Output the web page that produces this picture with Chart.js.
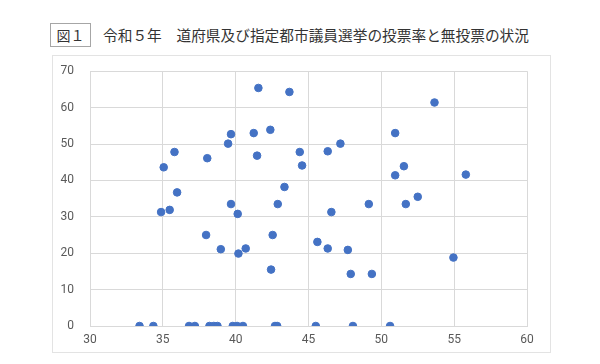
<!DOCTYPE html>
<html>
<head>
<meta charset="utf-8">
<script src="https://cdn.jsdelivr.net/npm/chart.js@4.4.0/dist/chart.umd.min.js"></script>
<style>
  body { margin: 0; background: #fff; width: 600px; height: 364px; position: relative; overflow: hidden;
         font-family: "Noto Sans CJK JP", sans-serif; }
  #figNo { position: absolute; left: 50px; top: 23px; width: 41px; height: 24px; border: 1px solid #a6a6a6;
           box-sizing: border-box; font-size: 14px; line-height: 22px; text-align: center; color: #333; }
  #title { position: absolute; left: 103px; top: 23px; font-size: 14.7px; line-height: 24px; color: #333; white-space: nowrap; }
  #box { position: absolute; left: 52px; top: 55px; width: 499px; height: 298px; border: 1px solid #e3e3e3; box-sizing: border-box; }
  #wrap { position: absolute; left: 52px; top: 48px; width: 499px; height: 305px; }
</style>
</head>
<body>
<div id="figNo">図１</div>
<div id="title">令和５年　道府県及び指定都市議員選挙の投票率と無投票の状況</div>
<div id="box"></div>
<div id="wrap"><canvas id="myChart"></canvas></div>
<script>
// turnout (%) on x, share of uncontested seats (%) on y, one entry per election
const turnoutRates = [
  35.06, 35.8, 38.05, 39.48, 39.68, 35.98, 41.56, 43.69, 41.24, 42.38,
  41.47, 44.4, 44.56, 46.32, 47.19, 50.95, 50.95, 43.35, 39.68, 42.89,
  49.14, 53.65, 51.55, 55.8, 52.5, 51.68, 34.88, 35.47, 37.97, 38.98,
  40.14, 40.19, 40.69, 42.54, 42.43, 46.57, 45.61, 46.32, 47.7, 47.9,
  49.35, 54.95,
  33.4, 34.35, 36.8, 37.2, 38.2, 38.5, 38.75, 39.8, 40.1, 40.5,
  42.7, 42.85, 45.5, 48.05, 50.6
];
const unopposedRates = [
  43.6, 47.8, 46.1, 50.1, 52.7, 36.7, 65.4, 64.3, 53.0, 53.9,
  46.8, 47.8, 44.1, 48.0, 50.1, 53.0, 41.4, 38.2, 33.5, 33.5,
  33.5, 61.4, 43.9, 41.6, 35.5, 33.5, 31.3, 31.9, 25.0, 21.1,
  30.8, 19.9, 21.3, 25.0, 15.5, 31.3, 23.1, 21.3, 20.9, 14.3,
  14.3, 18.8,
  0, 0, 0, 0, 0, 0, 0, 0, 0, 0,
  0, 0, 0, 0, 0
];
const xMin = 30, xMax = 60, xStep = 5;
const yMin = 0, yMax = 70, yStep = 10;

const points = turnoutRates.map((t, i) => ({ x: t, y: unopposedRates[i] }));

const tickFont = { family: "Roboto, 'Liberation Sans', sans-serif", size: 12 };

new Chart(document.getElementById('myChart'), {
  type: 'scatter',
  data: {
    datasets: [{
      data: points,
      backgroundColor: '#4472c4',
      borderColor: '#4472c4',
      pointRadius: 3.8,
      pointHoverRadius: 3.8
    }]
  },
  options: {
    responsive: true,
    maintainAspectRatio: false,
    animation: false,
    layout: { padding: { left: 0, top: 7, right: 24, bottom: 0 } },
    plugins: { legend: { display: false }, tooltip: { enabled: false } },
    scales: {
      x: {
        type: 'linear', min: xMin, max: xMax,
        ticks: { stepSize: xStep, color: '#595959', font: tickFont, padding: 7 },
        grid: { color: '#d9d9d9', drawTicks: false },
        border: { color: '#d9d9d9' },
        afterFit: s => { s.height = 27; }
      },
      y: {
        type: 'linear', min: yMin, max: yMax,
        ticks: { stepSize: yStep, color: '#595959', font: tickFont, padding: 16 },
        grid: { color: '#d9d9d9', drawTicks: false },
        border: { color: '#d9d9d9' },
        afterFit: s => { s.width = 38; }
      }
    }
  }
});
</script>
</body>
</html>
